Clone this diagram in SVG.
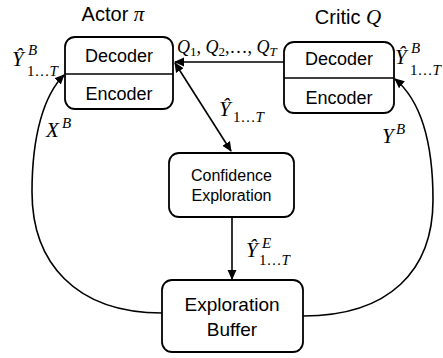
<svg xmlns="http://www.w3.org/2000/svg" width="443" height="358" viewBox="0 0 443 358">
<defs>
<marker id="ah" viewBox="0 0 10 10" refX="9" refY="5" markerWidth="10" markerHeight="10" markerUnits="userSpaceOnUse" orient="auto-start-reverse">
<path d="M0,0.5 L10,5 L0,9.5 Z" fill="#000"/>
</marker>
<style>
.box{fill:#fff;stroke:#000;stroke-width:1.8}
.ln{fill:none;stroke:#000;stroke-width:1.6}
.t{font-family:"Liberation Sans",Arial,sans-serif;fill:#000;text-anchor:middle}
.m{font-family:"Liberation Serif","Times New Roman",serif;font-style:italic;fill:#000}
.n{font-style:normal}
</style>
</defs>
<rect width="443" height="358" fill="#fff"/>
<g id="title-actor"><text class="t" x="113" y="21" font-size="20">Actor <tspan class="m" font-size="21">π</tspan></text></g>
<g id="title-critic"><text class="t" x="348" y="24" font-size="20">Critic <tspan class="m" font-size="21">Q</tspan></text></g>
<g id="actor">
<rect class="box" x="65" y="37" width="108" height="72" rx="10"/>
<line class="ln" x1="65" y1="74" x2="173" y2="74"/>
<text class="t" x="119" y="62" font-size="18">Decoder</text>
<text class="t" x="119" y="100" font-size="18">Encoder</text>
</g>
<g id="critic">
<rect class="box" x="284" y="42" width="110" height="71" rx="10"/>
<line class="ln" x1="284" y1="78" x2="394" y2="78"/>
<text class="t" x="339" y="65" font-size="18">Decoder</text>
<text class="t" x="339" y="104" font-size="18">Encoder</text>
</g>
<g id="confidence">
<rect class="box" x="169" y="153" width="125" height="64" rx="10"/>
<text class="t" x="231.5" y="181" font-size="16">Confidence</text>
<text class="t" x="231.5" y="201" font-size="16">Exploration</text>
</g>
<g id="buffer">
<rect class="box" x="162" y="280" width="141" height="72" rx="10"/>
<text class="t" x="232" y="311" font-size="19">Exploration</text>
<text class="t" x="232" y="336" font-size="19">Buffer</text>
</g>
<g id="connectors">
<line class="ln" x1="284" y1="62" x2="175" y2="62" marker-end="url(#ah)"/>
<line class="ln" x1="175" y1="63" x2="231" y2="151" marker-start="url(#ah)" marker-end="url(#ah)"/>
<line class="ln" x1="232" y1="217" x2="232" y2="279" marker-end="url(#ah)"/>
<path class="ln" d="M162,313 C75,313 32,262 32,192 C32,135 44,95 64,75" marker-end="url(#ah)"/>
<path class="ln" d="M303,316 C390,316 433,270 433,200 C433,140 420,100 395,79" marker-end="url(#ah)"/>
</g>
<g id="labels">
<text class="m" x="177" y="53" font-size="18">Q<tspan class="n" font-size="13" dy="3">1</tspan><tspan class="n" dy="-3">, </tspan>Q<tspan class="n" font-size="13" dy="3">2</tspan><tspan class="n" dy="-3">,…, </tspan>Q<tspan font-size="13" dy="3">T</tspan></text>
<text class="m" x="12" y="66" font-size="21">Ŷ</text>
<text class="m" x="28" y="55" font-size="15">B</text>
<text class="m" x="27" y="76" font-size="15"><tspan class="n">1…</tspan>T</text>
<text class="m" x="395" y="64" font-size="21">Ŷ</text>
<text class="m" x="411" y="53" font-size="15">B</text>
<text class="m" x="410" y="75" font-size="15"><tspan class="n">1…</tspan>T</text>
<text class="m" x="219" y="116" font-size="21">Ŷ</text>
<text class="m" x="233" y="122" font-size="15"><tspan class="n">1…</tspan>T</text>
<text class="m" x="246" y="257" font-size="21">Ŷ</text>
<text class="m" x="262" y="248" font-size="15">E</text>
<text class="m" x="259" y="265" font-size="15"><tspan class="n">1…</tspan>T</text>
<text class="m" x="46" y="137" font-size="21">X</text>
<text class="m" x="62" y="128" font-size="15">B</text>
<text class="m" x="382" y="143" font-size="21">Y</text>
<text class="m" x="396" y="134" font-size="15">B</text>
</g>
</svg>
